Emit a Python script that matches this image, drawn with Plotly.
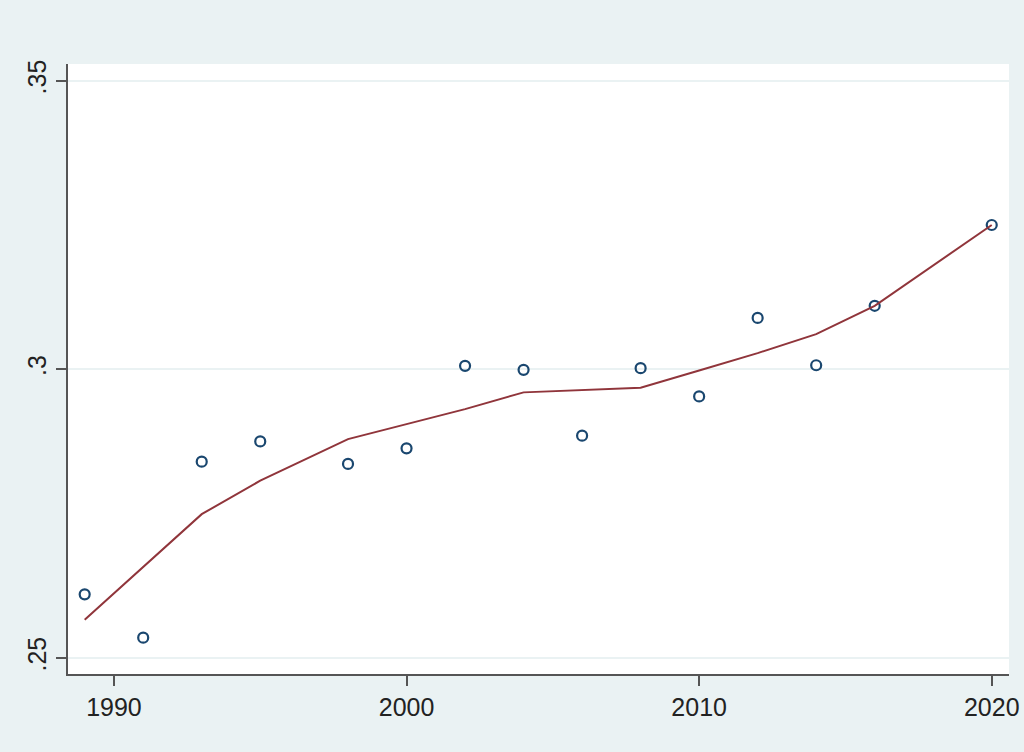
import plotly.graph_objects as go

# observed values (scatter) and fitted line
years = [1989, 1991, 1993, 1995, 1998, 2000, 2002, 2004, 2006, 2008, 2010, 2012, 2014, 2016, 2020]
observed = [0.2610, 0.2535, 0.2840, 0.2875, 0.2836, 0.2863, 0.3006, 0.2999,
            0.2885, 0.3002, 0.2953, 0.3089, 0.3007, 0.3110, 0.3250]
fitted = [0.2566, 0.2658, 0.2749, 0.2807, 0.2879, 0.2905, 0.2931, 0.2960,
          0.2964, 0.2968, 0.2998, 0.3028, 0.3061, 0.3110, 0.3250]

x_ticks = [1990, 2000, 2010, 2020]
y_ticks = [0.25, 0.30, 0.35]
y_tick_labels = ['.25', '.3', '.35']

BG = '#EAF2F3'
NAVY = '#1A476F'
MAROON = '#90353B'

fig = go.Figure()

fig.add_trace(go.Scatter(
    x=years, y=observed, mode='markers', name='observed',
    marker=dict(symbol='circle-open', size=10, color=NAVY, line=dict(width=2.2, color=NAVY)),
))
fig.add_trace(go.Scatter(
    x=years, y=fitted, mode='lines', name='fitted',
    line=dict(color=MAROON, width=2),
))

fig.update_layout(
    width=1024, height=752,
    paper_bgcolor=BG, plot_bgcolor='white',
    margin=dict(l=68, r=15, t=64, b=78),
    showlegend=False,
    font=dict(family='Liberation Sans, Arial, sans-serif', size=25, color='#222222'),
)

fig.update_xaxes(
    range=[1988.43, 2020.59], tickvals=x_ticks, ticktext=[str(t) for t in x_ticks],
    showgrid=False, zeroline=False, automargin=False,
    showline=True, linecolor='#555555', linewidth=2,
    ticks='outside', ticklen=10, tickwidth=1.5, tickcolor='#555555',
    tickfont=dict(size=25),
)
fig.update_yaxes(
    range=[0.2472, 0.3529], tickvals=y_ticks, ticktext=y_tick_labels,
    showgrid=True, gridcolor=BG, gridwidth=2, zeroline=False, automargin=False,
    showline=True, linecolor='#555555', linewidth=2,
    ticks='outside', ticklen=10, tickwidth=1.5, tickcolor='#555555',
    tickangle=-90, tickfont=dict(size=25),
)

# drop the default page margin so the figure fills the window
fig.write_html("out.html", config={'displayModeBar': False},
               post_script="document.body.style.margin='0';")
